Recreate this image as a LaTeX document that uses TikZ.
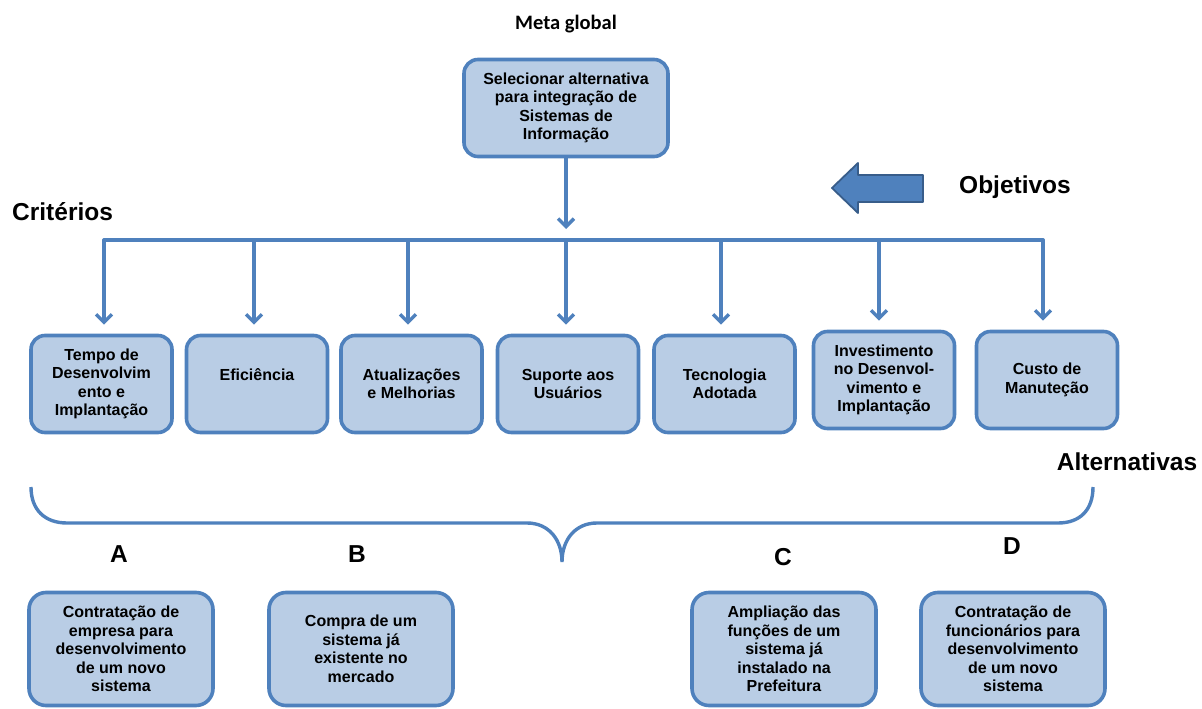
\documentclass[tikz,border=0pt]{standalone}
\usepackage{fontspec}
\setmainfont{Liberation Sans}
\newfontfamily\calibrifont{Carlito}
\usetikzlibrary{arrows.meta}
\definecolor{boxfill}{HTML}{B9CDE5}
\definecolor{boxline}{HTML}{4F81BD}
\definecolor{blockedge}{HTML}{385D8A}
\begin{document}
\begin{tikzpicture}[x=1pt,y=-1pt,
  box/.style={draw=boxline, fill=boxfill, line width=3.6pt, rounded corners=14pt,
    align=center, inner sep=0pt, font=\fontsize{16}{18.5}\selectfont\bfseries},
  critbox/.style={box, minimum width=141pt, minimum height=97pt},
  altbox/.style={box, minimum width=184pt, minimum height=113pt, rounded corners=17pt},
  conn/.style={draw=boxline, line width=3.4pt, line cap=round,
    -{Straight Barb[length=8pt,width=16pt]}},
  busline/.style={draw=boxline, line width=3.4pt, line cap=round},
  biglbl/.style={inner sep=0pt, font=\fontsize{24.5}{28}\selectfont\bfseries},
  metalbl/.style={inner sep=0pt, font=\calibrifont\fontsize{20.5}{24}\selectfont\bfseries},
  blockarrow/.style={fill=boxline, draw=blockedge, line width=1.8pt, line join=round}
]
\useasboundingbox (0,0) rectangle (1202,709);

% Goal
\node[metalbl] (meta) at (566,24) {Meta global};
\node[box, minimum width=204pt, minimum height=97pt] (goal) at (566,108)
  {Selecionar alternativa\\para integração de\\Sistemas de\\Informação};

% Labels
\node[biglbl, anchor=west] (crit) at (12,212) {Critérios};
\node[biglbl] (obj) at (1015,187) {Objetivos};
\node[biglbl] (alt) at (1127,462) {Alternativas};

% Block arrow (Objetivos)
\filldraw[blockarrow] (832,188) -- (858,163) -- (858,175) -- (923,175) -- (923,202)
  -- (858,202) -- (858,213) -- cycle;

% Criteria boxes
\node[critbox] (c1) at (101.5,384) {Tempo de\\Desenvolvim\\ento e\\Implantação};
\node[critbox] (c2) at (257,384) {Eficiência\\\phantom{X}};
\node[critbox] (c3) at (411.5,384) {Atualizações\\e Melhorias};
\node[critbox] (c4) at (568,384) {Suporte aos\\Usuários};
\node[critbox] (c5) at (724.5,384) {Tecnologia\\Adotada};
\node[critbox] (c6) at (884,380) {Investimento\\no Desenvol-\\vimento e\\Implantação};
\node[critbox] (c7) at (1047,380) {Custo de\\Manuteção};

% Bus
\coordinate (gend) at (566,229);
\coordinate (b1) at (104,240);
\coordinate (b2) at (254,240);
\coordinate (b3) at (408,240);
\coordinate (b4) at (566,240);
\coordinate (b5) at (721,240);
\coordinate (b6) at (879,240);
\coordinate (b7) at (1043,240);

\draw[conn] (goal.south) -- (gend);
\draw[busline] (b1) -- (b7);
\foreach \i in {1,...,7} {
  \draw[conn, shorten >=9pt] (b\i) -- (b\i |- c\i.north);
}

% Brace
\draw[busline, line cap=butt] (31,487) .. controls (31,510) and (45,523) .. (67,523)
  -- (527,523) .. controls (549,523) and (562,540) .. (562,562)
  .. controls (562,540) and (575,523) .. (597,523)
  -- (1058,523) .. controls (1080,523) and (1093,510) .. (1093,487);

% Alternative letters
\node[biglbl] (la) at (119,554) {A};
\node[biglbl] (lb) at (357,554) {B};
\node[biglbl] (lc) at (783,557) {C};
\node[biglbl] (ld) at (1012,546) {D};

% Alternative boxes
\node[altbox] (a1) at (121,649) {Contratação de\\empresa para\\desenvolvimento\\de um novo\\sistema};
\node[altbox] (a2) at (361,649) {Compra de um\\sistema já\\existente no\\mercado};
\node[altbox] (a3) at (784,649) {Ampliação das\\funções de um\\sistema já\\instalado na\\Prefeitura};
\node[altbox] (a4) at (1013,649) {Contratação de\\funcionários para\\desenvolvimento\\de um novo\\sistema};
\end{tikzpicture}
\end{document}
